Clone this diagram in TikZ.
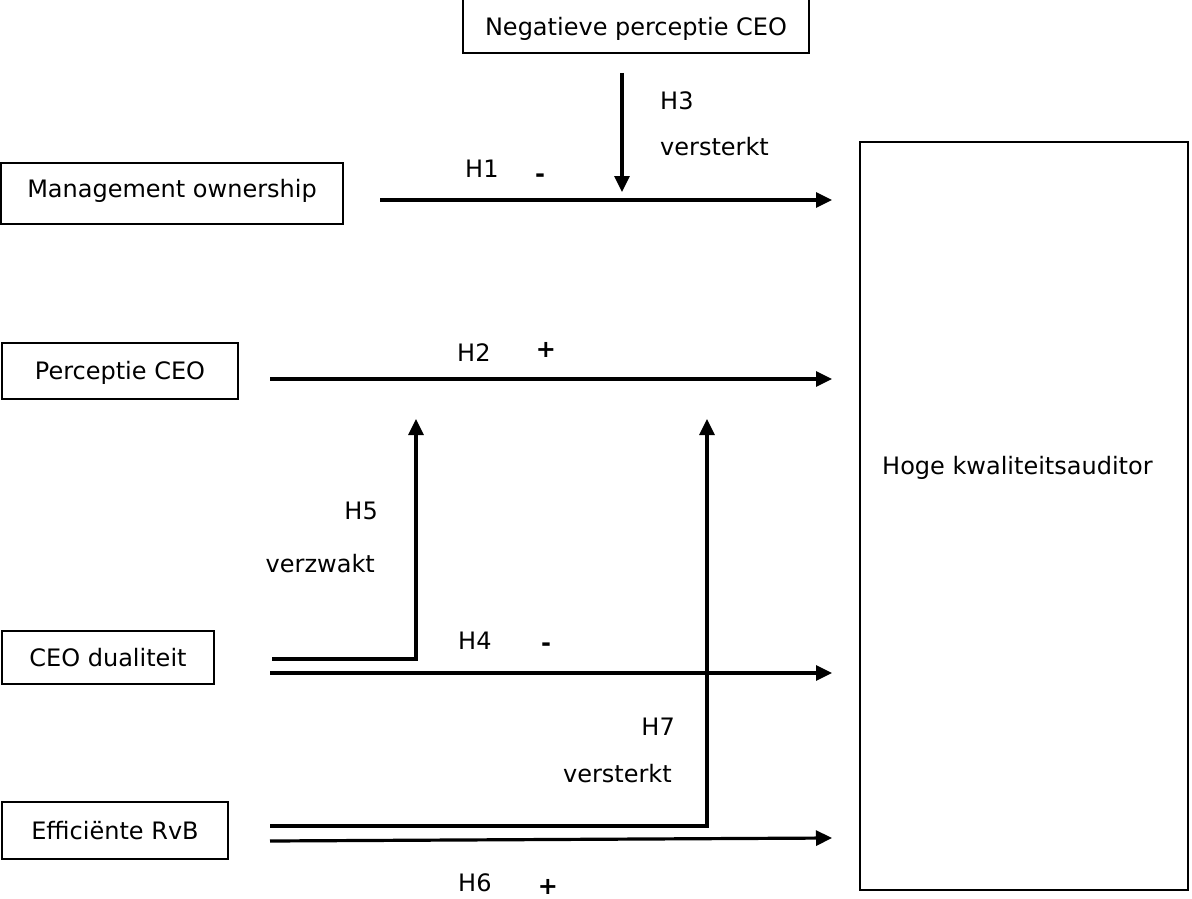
\documentclass[tikz,border=0pt]{standalone}
\usepackage{fontspec}
\setmainfont{DejaVu Sans}
\usetikzlibrary{arrows.meta}
\begin{document}
\begin{tikzpicture}[x=1pt,y=-1pt,
  font=\fontsize{24}{28}\selectfont,
  box/.style={draw, line width=2pt, inner sep=0pt, text height=17pt, text depth=0pt},
  conn/.style={line width=3.2pt, -{Triangle[length=16pt,width=15pt]}},
  lbl/.style={inner sep=0pt, anchor=base west},
  lblr/.style={inner sep=0pt, anchor=base east},
  sign/.style={inner sep=0pt, anchor=base, font=\fontsize{24}{28}\selectfont\bfseries}]
\useasboundingbox (0,0) rectangle (1192,899);

% boxes
\node[box, minimum width=346pt, minimum height=62pt, text height=27pt] (neg) at (636,22) {Negatieve perceptie CEO};
\node[box, minimum width=342pt, minimum height=61pt, text depth=9pt] (mo) at (172,193.5) {Management ownership};
\node[box, minimum width=236pt, minimum height=56pt] (pc) at (120,371) {Perceptie CEO};
\node[box, minimum width=212pt, minimum height=53pt] (cd) at (108,657.5) {CEO dualiteit};
\node[box, minimum width=226pt, minimum height=57pt] (er) at (115,830.5) {Efficiënte RvB};
\node[box, minimum width=328pt, minimum height=748pt] (hoge) at (1024,516) {};
\node[lbl] (hogetxt) at (882,474) {Hoge kwaliteitsauditor};

% connector end points
\coordinate (h1s) at (380,200);
\coordinate (h1e) at (832,200);
\coordinate (h3s) at (622,73);
\coordinate (h3e) at (622,192);
\coordinate (h2s) at (270,379);
\coordinate (h2e) at (832,379);
\coordinate (h5s) at (272,659);
\coordinate (h5e) at (416,419);
\coordinate (h4s) at (270,673);
\coordinate (h4e) at (832,673);
\coordinate (h7s) at (270,826);
\coordinate (h7e) at (707,419);
\coordinate (h6s) at (270,841);
\coordinate (h6e) at (832,838);

% connectors
\draw[conn] (h1s) -- (h1e);
\draw[conn] (h3s) -- (h3e);
\draw[conn] (h2s) -- (h2e);
\draw[conn] (h5s) -| (h5e);
\draw[conn] (h4s) -- (h4e);
\draw[conn] (h7s) -| (h7e);
\draw[conn] (h6s) -- (h6e);

% labels
\node[lbl] (l1) at (465,177) {H1};
\node[sign] (s1) at (540,182) {-};
\node[lbl] (l3) at (660,110) {H3};
\node[lbl] (l3b) at (660,155) {versterkt};
\node[lbl] (l2) at (457,361) {H2};
\node[sign] (s2) at (546,357) {+};
\node[lblr] (l5) at (378,519) {H5};
\node[lblr] (l5b) at (375,572) {verzwakt};
\node[lbl] (l4) at (458,649) {H4};
\node[sign] (s4) at (546,651) {-};
\node[lblr] (l7) at (675,735) {H7};
\node[lblr] (l7b) at (672,782) {versterkt};
\node[lbl] (l6) at (458,891) {H6};
\node[sign] (s6) at (548,894) {+};
\end{tikzpicture}
\end{document}
